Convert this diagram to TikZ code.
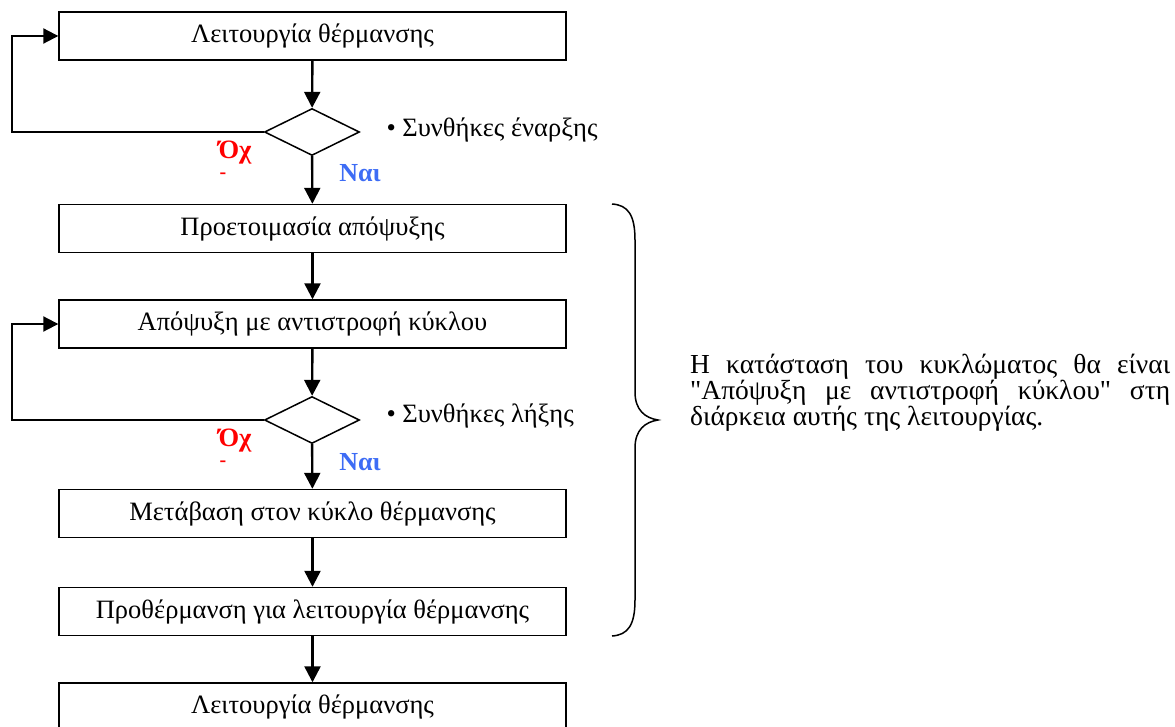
\documentclass[tikz,border=0pt]{standalone}
\usepackage{fontspec}
\setmainfont{Liberation Serif}[Ligatures=TeXOff]
\usepackage{xcolor}
\usepackage{tikz}
\usetikzlibrary{positioning, arrows.meta, shapes.geometric}
\definecolor{nored}{HTML}{FF0000}
\definecolor{yesblue}{HTML}{3D6CF5}

\begin{document}
\begin{tikzpicture}[x=1pt, y=-1pt,
  flowbox/.style={draw, line width=1.4pt, minimum width=507pt, minimum height=48pt,
        inner sep=0pt, font=\fontsize{26.5}{30}\selectfont},
  decision/.style={draw, diamond, aspect=2, line width=1.5pt, inner sep=0pt,
        minimum width=95pt, minimum height=47pt},
  flow/.style={line width=2.4pt, -{Triangle[length=16pt, width=16pt]}},
  loopback/.style={line width=2pt, -{Triangle[length=15pt, width=15pt]}},
  cond/.style={anchor=west, font=\fontsize{26.5}{30}\selectfont},
  nolabel/.style={text=nored, font=\bfseries\fontsize{26.5}{30}\selectfont},
  nodash/.style={text=nored, font=\bfseries\fontsize{20}{20}\selectfont},
  yeslabel/.style={text=yesblue, font=\bfseries\fontsize{26}{30}\selectfont}]
  \useasboundingbox (0,0) rectangle (1175,727);
  \clip (0,0) rectangle (1175,727);

  % main flow
  \node[flowbox] (heat1) at (312.5,36) {Λειτουργία θέρμανσης};
  \node[decision] (start) at (312,132) {};
  \node[flowbox] (prep) at (312.5,228.5) {Προετοιμασία απόψυξης};
  \node[flowbox] (defrost) at (312.5,324) {Απόψυξη με αντιστροφή κύκλου};
  \node[decision] (stop) at (312,420) {};
  \node[flowbox] (switch) at (312.5,513.5) {Μετάβαση στον κύκλο θέρμανσης};
  \node[flowbox] (preheat) at (312.5,611.5) {Προθέρμανση για λειτουργία θέρμανσης};
  \node[flowbox] (heat2) at (312.5,707) {Λειτουργία θέρμανσης};

  \draw[flow] (heat1) -- (start);
  \draw[flow] (start) -- (prep);
  \draw[flow] (prep) -- (defrost);
  \draw[flow] (defrost) -- (stop);
  \draw[flow] (stop) -- (switch);
  \draw[flow] (switch) -- (preheat);
  \draw[flow] (preheat) -- (heat2);

  % loops back
  \coordinate (back1) at (12,132);
  \coordinate (back2) at (12,420);
  \draw[loopback] (start.west) -- (back1) |- (heat1.west);
  \draw[loopback] (stop.west) -- (back2) |- (defrost.west);

  \node[cond] (startcond) at (383,130) {• Συνθήκες έναρξης};
  \node[cond] (stopcond) at (383,416) {• Συνθήκες λήξης};

  \node[nolabel] (no1) at (235,153) {Όχ};
  \node[nodash] (dash1) at (223,176) {-};
  \node[yeslabel] (yes1) at (360,173) {Ναι};
  \node[nolabel] (no2) at (235,441) {Όχ};
  \node[nodash] (dash2) at (223,464) {-};
  \node[yeslabel] (yes2) at (360,462) {Ναι};

  % brace and note
  \draw[line width=1.5pt] (612,204) .. controls (628,205) and (635,215) .. (635,240)
    -- (635,392) .. controls (635,410) and (645,418) .. (658,420)
    .. controls (645,422) and (635,430) .. (635,448)
    -- (635,600) .. controls (635,625) and (628,635) .. (612,636);
  \node[anchor=west, text width=480pt, align=justify, inner sep=0pt,
        font=\fontsize{27.5}{26}\selectfont] (note) at (690,393)
    {\hyphenpenalty=10000 Η κατάσταση του κυκλώματος θα είναι\linebreak
     "Απόψυξη με αντιστροφή κύκλου" στη\linebreak
     διάρκεια αυτής της λειτουργίας.};
\end{tikzpicture}
\end{document}
